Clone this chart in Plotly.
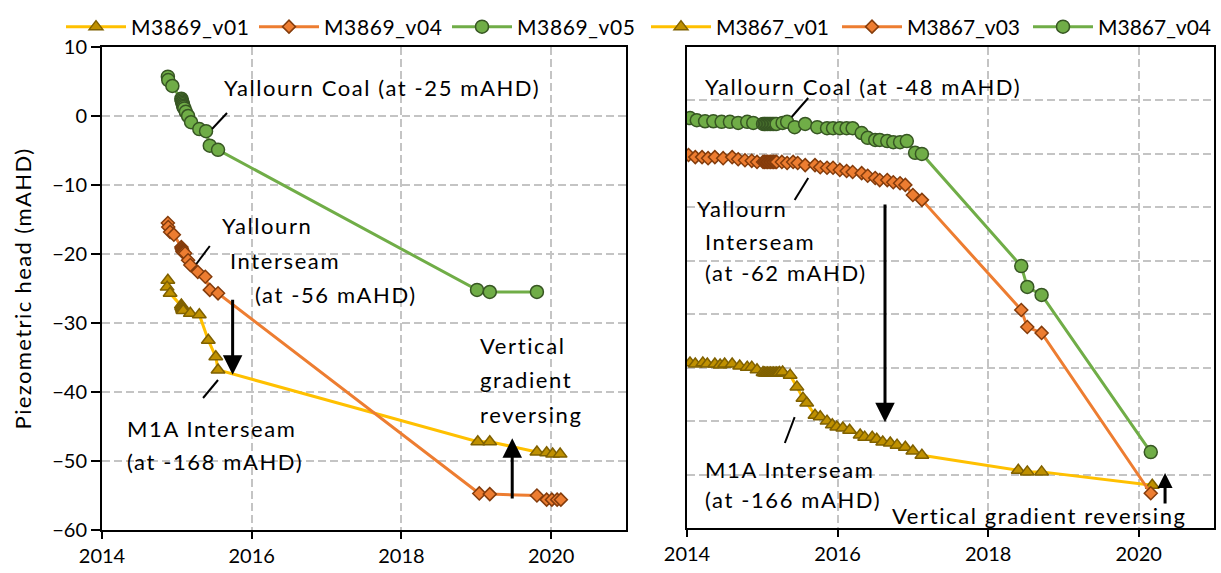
import plotly.graph_objects as go

# ---------------- M3869 (left panel) ----------------
m3869_v01_year = [2014.88, 2014.87, 2014.91, 2015.06, 2015.065, 2015.07, 2015.075, 2015.08, 2015.085,
                  2015.18, 2015.30, 2015.42, 2015.52, 2015.55,
                  2019.02, 2019.18, 2019.81, 2019.94, 2020.02, 2020.12]
m3869_v01_head = [-23.8, -24.8, -25.7, -27.4, -27.6, -27.7, -27.9, -28.1, -28.2,
                  -28.6, -28.8, -32.5, -34.9, -36.8,
                  -47.2, -47.2, -48.7, -48.8, -49.0, -49.0]

m3869_v04_year = [2014.88, 2014.885, 2014.91, 2014.96, 2015.06, 2015.065, 2015.07, 2015.075, 2015.08,
                  2015.09, 2015.11, 2015.15, 2015.18, 2015.28, 2015.38, 2015.44, 2015.55,
                  2019.04, 2019.18, 2019.81, 2019.94, 2020.01, 2020.08, 2020.13]
m3869_v04_head = [-15.5, -16.1, -16.8, -17.2, -19.0, -19.2, -19.4, -19.6, -19.7,
                  -19.8, -19.9, -20.9, -21.6, -22.6, -23.3, -25.2, -25.7,
                  -54.7, -54.8, -55.0, -55.6, -55.6, -55.6, -55.6]

m3869_v05_year = [2014.88, 2014.885, 2014.94, 2015.06, 2015.065, 2015.07, 2015.075, 2015.08, 2015.085,
                  2015.09, 2015.10, 2015.12, 2015.15, 2015.19, 2015.30, 2015.39, 2015.44, 2015.55,
                  2019.01, 2019.18, 2019.81]
m3869_v05_head = [5.7, 5.2, 4.35, 2.5, 2.3, 2.1, 1.9, 1.7, 1.5,
                  1.3, 1.1, 0.6, 0.0, -0.9, -1.9, -2.2, -4.3, -4.9,
                  -25.2, -25.5, -25.5]

# ---------------- M3867 (right panel) ----------------
m3867_v01_year = [2014.04, 2014.11, 2014.21, 2014.27, 2014.37, 2014.44, 2014.50, 2014.60, 2014.70,
                  2014.80, 2014.86, 2014.93,
                  2015.01, 2015.03, 2015.05, 2015.07, 2015.09, 2015.11, 2015.13, 2015.15, 2015.17,
                  2015.19, 2015.21, 2015.23,
                  2015.27, 2015.37, 2015.46, 2015.54, 2015.59, 2015.70, 2015.77, 2015.86, 2015.93,
                  2015.99, 2016.07, 2016.16, 2016.30, 2016.36, 2016.46, 2016.52, 2016.60, 2016.70,
                  2016.79, 2016.90, 2017.00, 2017.12,
                  2018.40, 2018.52, 2018.71, 2020.18]
m3867_v01_head = [-49.1, -49.3, -49.1, -49.3, -49.3, -49.5, -49.3, -49.3, -49.7,
                  -49.9, -49.9, -50.4,
                  -50.9, -51.0, -51.0, -51.0, -51.0, -51.0, -51.0, -51.0, -51.0,
                  -51.0, -51.0, -50.9,
                  -50.8, -51.4, -53.6, -55.7, -56.6, -58.9, -59.2, -60.0, -60.7,
                  -61.1, -61.3, -61.7, -62.6, -63.0, -63.0, -63.4, -63.9, -64.1,
                  -64.5, -64.9, -65.6, -66.4,
                  -69.2, -69.5, -69.5, -72.0]

m3867_v03_year = [2014.02, 2014.11, 2014.20, 2014.28, 2014.37, 2014.48, 2014.60, 2014.68, 2014.77,
                  2014.86, 2014.93,
                  2015.01, 2015.03, 2015.05, 2015.07, 2015.09, 2015.11, 2015.13, 2015.15, 2015.17,
                  2015.19,
                  2015.26, 2015.33, 2015.41, 2015.47, 2015.57, 2015.70, 2015.77, 2015.86, 2015.94,
                  2016.03, 2016.12, 2016.20, 2016.32, 2016.40, 2016.50, 2016.56, 2016.66, 2016.74,
                  2016.83, 2016.90, 2017.00, 2017.12,
                  2018.44, 2018.52, 2018.71, 2020.16]
m3867_v03_head = [-10.2, -10.6, -10.6, -10.8, -10.6, -10.8, -10.6, -11.0, -11.2,
                  -11.3, -11.5,
                  -11.5, -11.5, -11.5, -11.5, -11.5, -11.5, -11.5, -11.5, -11.5,
                  -11.5,
                  -11.5, -11.7, -11.5, -11.7, -12.1, -12.1, -12.5, -12.6, -12.6,
                  -13.0, -13.2, -13.4, -13.6, -14.1, -14.5, -14.9, -14.9, -15.3,
                  -15.5, -15.8, -17.7, -18.6,
                  -39.2, -42.4, -43.5, -73.5]

m3867_v04_year = [2014.04, 2014.13, 2014.24, 2014.35, 2014.46, 2014.57, 2014.68, 2014.80, 2014.88,
                  2015.01, 2015.03, 2015.05, 2015.07, 2015.09, 2015.11, 2015.13, 2015.15, 2015.17,
                  2015.19,
                  2015.27, 2015.33, 2015.43, 2015.57, 2015.73, 2015.86, 2015.94, 2016.03, 2016.12,
                  2016.20, 2016.32, 2016.40, 2016.50, 2016.56, 2016.66, 2016.74, 2016.83, 2016.92,
                  2017.03, 2017.12,
                  2018.44, 2018.52, 2018.71, 2020.16]
m3867_v04_head = [-3.3, -3.7, -3.9, -3.9, -4.0, -4.0, -4.2, -4.0, -4.2,
                  -4.4, -4.4, -4.4, -4.4, -4.4, -4.4, -4.4, -4.4, -4.4,
                  -4.4,
                  -4.2, -4.0, -5.0, -4.4, -5.0, -5.2, -5.2, -5.2, -5.2,
                  -5.2, -6.1, -7.0, -7.4, -7.4, -7.6, -7.8, -7.8, -7.6,
                  -9.8, -10.0,
                  -31.0, -34.9, -36.4, -65.8]

series_names = ["M3869_v01", "M3869_v04", "M3869_v05", "M3867_v01", "M3867_v03", "M3867_v04"]

FONT = "Lato"
YELLOW = dict(line="#FFC000", fill="#BF9000", edge="#7F6000", symbol="triangle-up", size=12)
ORANGE = dict(line="#ED7D31", fill="#ED7D31", edge="#843C0C", symbol="diamond", size=10)
GREEN = dict(line="#70AD47", fill="#70AD47", edge="#375623", symbol="circle", size=13)

fig = go.Figure()


def add_series(x, y, name, style, xa, ya, legend):
    fig.add_trace(go.Scatter(
        x=x, y=y, name=name, mode="lines+markers", xaxis=xa, yaxis=ya, legend=legend,
        line=dict(color=style["line"], width=3),
        marker=dict(symbol=style["symbol"], size=style["size"], color=style["fill"],
                    line=dict(color=style["edge"], width=1.5)),
    ))


add_series(m3869_v01_year, m3869_v01_head, series_names[0], YELLOW, "x", "y", "legend")
add_series(m3869_v04_year, m3869_v04_head, series_names[1], ORANGE, "x", "y", "legend")
add_series(m3869_v05_year, m3869_v05_head, series_names[2], GREEN, "x", "y", "legend")
add_series(m3867_v01_year, m3867_v01_head, series_names[3], YELLOW, "x2", "y2", "legend2")
add_series(m3867_v03_year, m3867_v03_head, series_names[4], ORANGE, "x2", "y2", "legend2")
add_series(m3867_v04_year, m3867_v04_head, series_names[5], GREEN, "x2", "y2", "legend2")

# text labels: (text, x, y, axis suffix)
labels = [
    ("Yallourn Coal (at -25 mAHD)", 2015.603, 4.06, ""),
    ("Yallourn", 2015.576, -15.94, ""),
    ("Interseam", 2015.683, -20.87, ""),
    ("(at -56 mAHD)", 2016.017, -25.94, ""),
    ("Vertical", 2019.023, -33.33, ""),
    ("gradient", 2019.023, -38.26, ""),
    ("reversing", 2019.023, -43.19, ""),
    ("M1A Interseam", 2014.307, -45.22, ""),
    ("(at -168 mAHD)", 2014.307, -50.14, ""),
    ("Yallourn Coal (at -48 mAHD)", 2014.212, 2.70, "2"),
    ("Yallourn", 2014.106, -20.13, "2"),
    ("Interseam", 2014.212, -26.30, "2"),
    ("(at -62 mAHD)", 2014.212, -32.10, "2"),
    ("M1A Interseam", 2014.212, -68.97, "2"),
    ("(at -166 mAHD)", 2014.212, -74.58, "2"),
    ("Vertical gradient reversing", 2016.696, -77.57, "2"),
]

annotations = []
for text, x, y, ax in labels:
    annotations.append(dict(text=text, x=x, y=y, xref="x" + ax, yref="y" + ax,
                            xanchor="left", yanchor="middle", align="left", showarrow=False,
                            font=dict(family=FONT, size=22, color="black")))

# vertical arrows: (x, tail y, tip y, head size, axis suffix)
arrows = [
    (2015.745, -26.4, -37.5, 1.3, ""),
    (2019.48, -55.65, -46.7, 1.3, ""),
    (2016.63, -19.2, -60.2, 1.3, "2"),
    (2020.35, -75.7, -69.7, 1.0, "2"),
]
for x, y0, y1, hs, ax in arrows:
    annotations.append(dict(text="", x=x, y=y1, ax=x, ay=y0, xref="x" + ax, yref="y" + ax,
                            axref="x" + ax, ayref="y" + ax, showarrow=True, arrowhead=2,
                            arrowsize=hs, arrowwidth=3, arrowcolor="black"))

# leader lines from labels to series: (x0, y0, x1, y1, axis suffix)
leaders = [
    (2015.47, -1.88, 2015.67, 0.43, ""),
    (2015.26, -21.45, 2015.44, -18.84, ""),
    (2015.35, -40.87, 2015.55, -38.26, ""),
    (2015.39, -3.10, 2015.61, 0.46, "2"),
    (2015.43, -18.63, 2015.61, -14.51, "2"),
    (2015.30, -64.10, 2015.43, -59.24, "2"),
]
shapes = [dict(type="line", x0=a, y0=b, x1=c, y1=d, xref="x" + ax, yref="y" + ax,
               line=dict(color="black", width=2)) for a, b, c, d, ax in leaders]

grid = dict(showgrid=True, gridcolor="#C4C4C4", gridwidth=1.5, griddash="8px,4px",
            showline=True, linecolor="black", linewidth=2, mirror=True, zeroline=False,
            automargin=False)
tickfont = dict(family=FONT, size=20, color="black")
legfont = dict(family=FONT, size=21, color="black")

fig.update_layout(
    width=1221, height=573, margin=dict(l=0, r=0, t=0, b=0, autoexpand=False),
    paper_bgcolor="white", plot_bgcolor="white",
    xaxis=dict(domain=[102 / 1221, 626 / 1221], range=[2014, 2021], dtick=2, tick0=2014,
               tickformat="d", ticks="outside", ticklen=7, tickwidth=2, tickcolor="black",
               tickfont=tickfont, anchor="y", **grid),
    yaxis=dict(domain=[43 / 573, 526 / 573], range=[-60, 10], dtick=10, ticks="outside",
               ticklen=9, tickwidth=2, tickcolor="black", tickfont=tickfont, anchor="x",
               title=dict(text="Piezometric head (mAHD)", font=dict(family=FONT, size=22, color="black"),
                          standoff=14),
               **grid),
    xaxis2=dict(domain=[687 / 1221, 1214 / 1221], range=[2014, 2021], dtick=2, tick0=2014,
                tickformat="d", ticks="outside", ticklen=7, tickwidth=2, tickcolor="black",
                tickfont=tickfont, anchor="y2", **grid),
    yaxis2=dict(domain=[45 / 573, 526 / 573], range=[-80, 10], dtick=10, ticks="",
                showticklabels=False, anchor="x2", **grid),
    legend=dict(orientation="h", x=61 / 1221, y=1 - 27 / 573, xanchor="left", yanchor="middle",
                font=legfont, itemwidth=60, entrywidth=118, bgcolor="rgba(0,0,0,0)"),
    legend2=dict(orientation="h", x=646 / 1221, y=1 - 27 / 573, xanchor="left", yanchor="middle",
                 font=legfont, itemwidth=60, entrywidth=116, bgcolor="rgba(0,0,0,0)"),
    annotations=annotations,
    shapes=shapes,
)

# Calibri-like loose tracking for the callout labels, legend and axis title
spacing_js = """
var gd = document.getElementById('{plot_id}');
gd.querySelectorAll('.annotation-text').forEach(function (t) { t.style.letterSpacing = '1.6px'; });
gd.querySelectorAll('.legendtext').forEach(function (t) { t.style.letterSpacing = '0.6px'; });
gd.querySelectorAll('.ytitle').forEach(function (t) { t.style.letterSpacing = '1.4px'; });
"""

fig.write_html("out.html", post_script=spacing_js)
